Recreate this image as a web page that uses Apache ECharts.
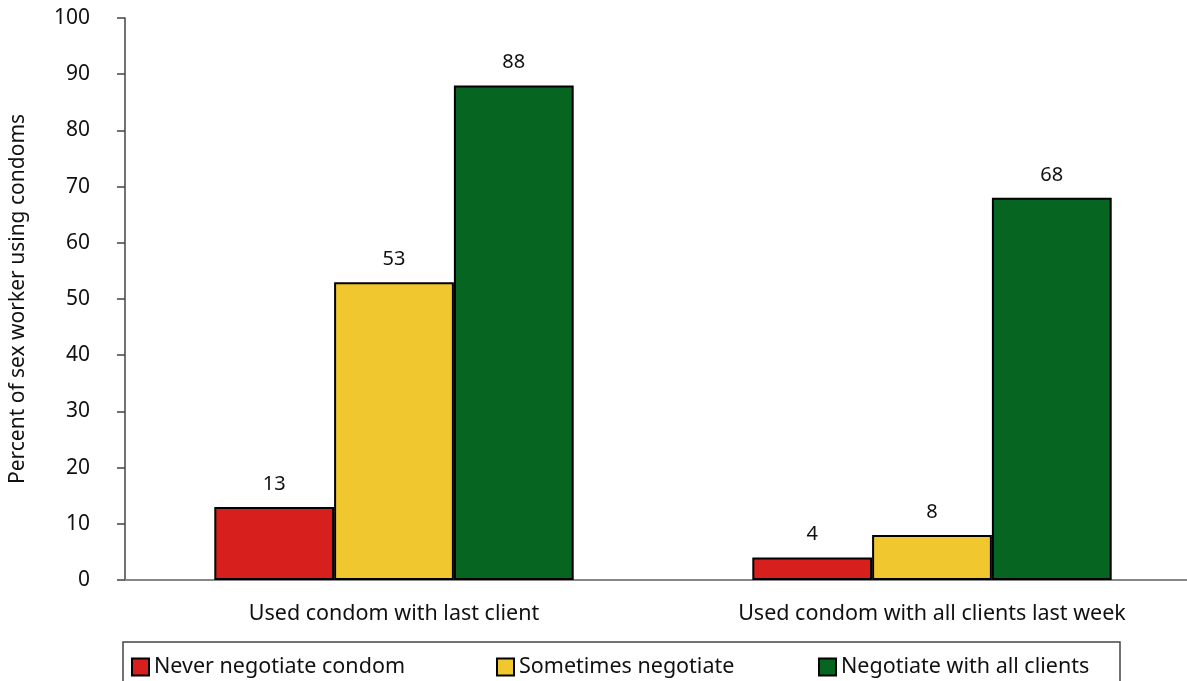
<!DOCTYPE html>
<html>
<head>
<meta charset="utf-8">
<script src="https://cdn.jsdelivr.net/npm/echarts@6/dist/echarts.min.js"></script>
<style>html,body{margin:0;padding:0;background:#fff;overflow:hidden;width:1187px;height:681px}#c{width:1201px;height:681px}</style>
</head>
<body>
<div id="c"></div>
<script>
const categories = ['Used condom with last client', 'Used condom with all clients last week'];
const seriesNames = ['Never negotiate condom', 'Sometimes negotiate', 'Negotiate with all clients'];
const neverValues = [13, 4];
const sometimesValues = [53, 8];
const allValues = [88, 68];
const yTicks = [0, 100, 10];
const yAxisTitle = 'Percent of sex worker using condoms';

const colors = ['#D71F1E', '#F1C72F', '#066621'];
const FONT = 'Noto Sans';
const chart = echarts.init(document.getElementById('c'));
const mkSeries = (name, data, color) => ({
  name, type: 'bar', data,
  barGap: '0%', barCategoryGap: '33.2%',
  itemStyle: { color, borderColor: '#000', borderWidth: 2 },
  label: { show: true, position: 'top', distance: 13, color: '#111', fontSize: 20, fontFamily: FONT },
  emphasis: { disabled: true }
});
const legendBase = (name, left) => ({
  data: [name], left, top: 651, itemWidth: 17, itemHeight: 17, itemGap: 0,
  icon: 'rect',
  itemStyle: { borderColor: '#000', borderWidth: 2 },
  textStyle: { fontSize: 21.5, fontFamily: FONT, color: '#111', padding: [0, 0, 0, 0] }
});
chart.setOption({
  animation: false,
  color: colors,
  textStyle: { fontFamily: FONT },
  grid: { left: 123, right: 0, top: 18, bottom: 101, containLabel: false },
  xAxis: {
    type: 'category', data: categories,
    axisLine: { lineStyle: { color: '#888', width: 2 } },
    axisTick: { show: false },
    axisLabel: { fontSize: 21.5, color: '#111', margin: 23, fontFamily: FONT }
  },
  yAxis: {
    type: 'value', min: yTicks[0], max: yTicks[1], interval: yTicks[2],
    name: yAxisTitle, nameLocation: 'middle', nameGap: 96, nameRotate: 90,
    nameTextStyle: { fontSize: 21, color: '#111', fontFamily: FONT },
    axisLine: { show: true, lineStyle: { color: '#444', width: 1.5 } },
    axisTick: { show: true, length: 8, lineStyle: { color: '#444', width: 1.5 } },
    axisLabel: { fontSize: 21, color: '#111', margin: 35, fontFamily: FONT },
    splitLine: { show: false }
  },
  legend: [legendBase(seriesNames[0], 126), legendBase(seriesNames[1], 491), legendBase(seriesNames[2], 813)],
  graphic: [{
    type: 'rect', z: -1,
    shape: { x: 123, y: 642, width: 997, height: 60 },
    style: { fill: '#fff', stroke: '#444', lineWidth: 1.5 }
  }],
  series: [
    mkSeries(seriesNames[0], neverValues, colors[0]),
    mkSeries(seriesNames[1], sometimesValues, colors[1]),
    mkSeries(seriesNames[2], allValues, colors[2])
  ]
});
</script>
</body>
</html>
